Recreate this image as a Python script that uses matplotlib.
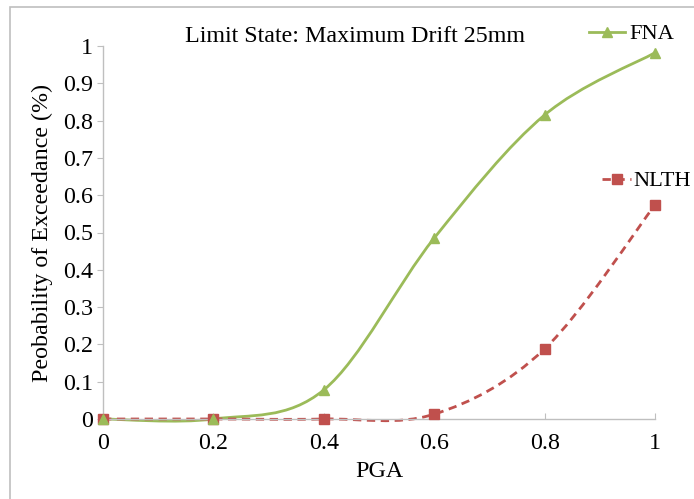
import numpy as np
import matplotlib
matplotlib.use("Agg")
import matplotlib.pyplot as plt
from matplotlib.path import Path
from matplotlib.patches import PathPatch, Rectangle
from matplotlib.lines import Line2D

# data
pga = [0, 0.2, 0.4, 0.6, 0.8, 1.0]
fna = [0.0, 0.0, 0.078, 0.485, 0.815, 0.982]
nlth = [0.0, 0.0, 0.0, 0.013, 0.188, 0.574]
x_ticks = [0, 0.2, 0.4, 0.6, 0.8, 1]
x_labels = ["0", "0.2", "0.4", "0.6", "0.8", "1"]
y_ticks = [0, 0.1, 0.2, 0.3, 0.4, 0.5, 0.6, 0.7, 0.8, 0.9, 1]
y_labels = ["0", "0.1", "0.2", "0.3", "0.4", "0.5", "0.6", "0.7", "0.8", "0.9", "1"]

green = "#9BBB59"
red = "#C0504D"
fs = 17.3
leg_fs = 16.2

plt.rcParams['font.family'] = ['Liberation Serif', 'DejaVu Serif']
plt.rcParams['font.size'] = fs


def smooth_path(xs, ys):
    # excel-like smoothed line: bezier segments through the points
    p = np.column_stack([xs, ys]).astype(float)
    n = len(p)
    verts = [p[0]]
    codes = [Path.MOVETO]
    for i in range(n - 1):
        p0 = p[i - 1] if i > 0 else p[i]
        p3 = p[i + 2] if i + 2 < n else p[i + 1]
        c1 = p[i] + (p[i + 1] - p0) / 6.0
        c2 = p[i + 1] - (p3 - p[i]) / 6.0
        verts += [c1, c2, p[i + 1]]
        codes += [Path.CURVE4] * 3
    return Path(verts, codes)


fig = plt.figure(figsize=(6.94, 4.99), dpi=100)

# outer chart border (only left/top visible in the crop)
fig.patches.append(Rectangle((10 / 694, -0.1), 1.2, 1 - 7 / 499 + 0.1,
                             transform=fig.transFigure, fill=False,
                             edgecolor="#BFBFBF", linewidth=1.2))

ax = fig.add_axes([103 / 694, 1 - 419 / 499, 552 / 694, 373 / 499])

ax.add_patch(PathPatch(smooth_path(pga, fna), facecolor="none",
                       edgecolor=green, linewidth=2.0, clip_on=False))
ax.add_patch(PathPatch(smooth_path(pga, nlth), facecolor="none",
                       edgecolor=red, linewidth=2.0, linestyle=(0, (3, 2)),
                       clip_on=False))
ax.plot(pga, nlth, linestyle="none", marker="s", color=red,
        markersize=7, clip_on=False, zorder=3)
ax.plot(pga, fna, linestyle="none", marker="^", color=green,
        markersize=7.5, clip_on=False, zorder=4)

ax.set_xlim(0, 1)
ax.set_ylim(0, 1)
ax.set_xticks(x_ticks)
ax.set_xticklabels(x_labels)
ax.set_yticks(y_ticks)
ax.set_yticklabels(y_labels)

for s in ["top", "right"]:
    ax.spines[s].set_visible(False)
for s in ["left", "bottom"]:
    ax.spines[s].set_color("#BFBFBF")
    ax.spines[s].set_linewidth(1.0)
ax.tick_params(axis="x", direction="in", length=4, color="#BFBFBF", pad=10)
ax.tick_params(axis="y", direction="out", length=4, color="#BFBFBF", pad=3)

ax.set_xlabel("PGA", labelpad=5)
ax.set_ylabel("Peobability of Exceedance (%)", labelpad=7)

fig.text(355 / 694, 1 - 37 / 499, "Limit State: Maximum Drift 25mm",
         ha="center", va="center", fontsize=fs)

h_fna = Line2D([], [], color=green, linewidth=2.0, marker="^", markersize=7)
h_nlth = Line2D([], [], color=red, linewidth=2.0, linestyle=(0, (3, 2)),
                marker="s", markersize=7)
leg1 = fig.legend([h_fna], ["FNA"], loc="center left",
                  bbox_to_anchor=(589 / 694, 1 - 34 / 499), frameon=False,
                  borderpad=0, borderaxespad=0, handlelength=1.6,
                  handletextpad=0.2, fontsize=leg_fs)
leg2 = fig.legend([h_nlth], ["NLTH"], loc="center left",
                  bbox_to_anchor=(602 / 694, 1 - 181 / 499), frameon=False,
                  borderpad=0, borderaxespad=0, handlelength=1.3,
                  handletextpad=0.1, fontsize=leg_fs)

fig.savefig("out.png", dpi=100)
